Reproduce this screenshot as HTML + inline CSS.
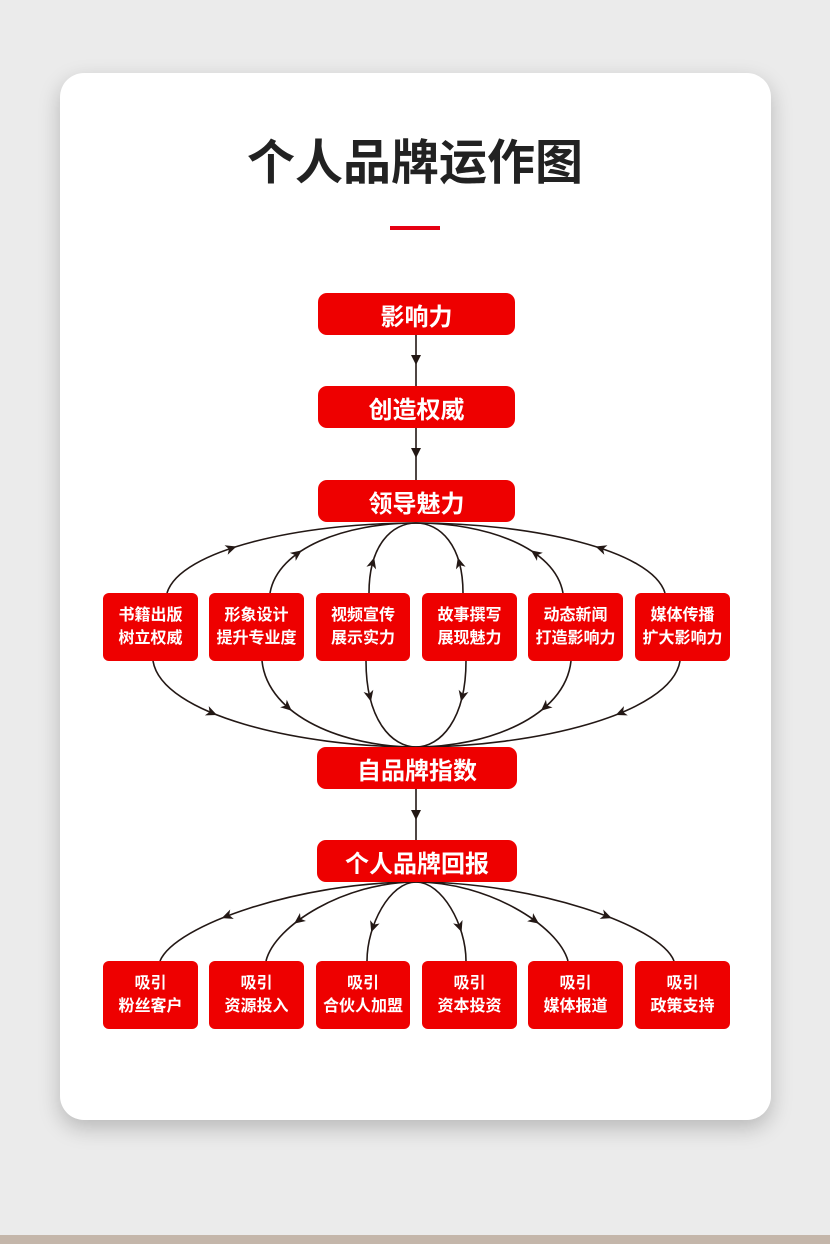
<!DOCTYPE html>
<html><head><meta charset="utf-8"><style>
body{margin:0;width:830px;height:1244px;background:#ebebeb;position:relative;overflow:hidden;font-family:"Liberation Sans","Noto Sans CJK SC",sans-serif}
.strip{position:absolute;left:0;top:1235px;width:830px;height:9px;background:#c4b6aa}
.card{position:absolute;left:60px;top:73px;width:711px;height:1047px;background:#fff;border-radius:24px;box-shadow:0 8px 22px rgba(0,0,0,.22)}
h1{position:absolute;left:0;width:830px;top:132px;margin:0;text-align:center;font-size:48px;font-weight:bold;color:#222;line-height:64px}
.line{position:absolute;left:390px;top:226px;width:50px;height:4px;background:#e60012}
.b{position:absolute;background:#ee0000;color:#fff;font-weight:bold;border-radius:9px;display:flex;align-items:center;justify-content:center;text-align:center}
.m{font-size:24px}
.s{font-size:16px;line-height:23px;border-radius:6px}
svg{position:absolute;left:0;top:0}
</style></head><body>
<div class="card"></div>
<div class="strip"></div>
<h1>个人品牌运作图</h1>
<div class="line"></div>
<svg width="830" height="1244" id="sv">
<g fill="none" stroke="#231815" stroke-width="1.6" id="g">
<path d="M416,335 L416,386"/>
<path d="M416,428 L416,480"/>
<path d="M416,789 L416,840"/>
<path class="a" data-f="0.3" d="M167,593 C180,550 300,523 416,523"/>
<path class="a" data-f="0.28" d="M270,593 C278,548 345,523 416,523"/>
<path class="a" data-f="0.32" d="M369,593 C369,545 392,523 416,523"/>
<path class="a" data-f="0.3" d="M665,593 C652,550 532,523 416,523"/>
<path class="a" data-f="0.28" d="M563,593 C555,548 487,523 416,523"/>
<path class="a" data-f="0.32" d="M463,593 C463,545 440,523 416,523"/>
<path class="a" data-f="0.28" d="M153,661 C162,715 300,747 416,747"/>
<path class="a" data-f="0.28" d="M262,661 C268,717 345,747 416,747"/>
<path class="a" data-f="0.32" d="M366,661 C366,720 392,747 416,747"/>
<path class="a" data-f="0.28" d="M680,661 C671,715 532,747 416,747"/>
<path class="a" data-f="0.28" d="M571,661 C565,717 487,747 416,747"/>
<path class="a" data-f="0.32" d="M466,661 C466,720 440,747 416,747"/>
<path class="a" data-f="0.7" d="M416,882 C300,882 175,925 160,961"/>
<path class="a" data-f="0.7" d="M416,882 C345,882 275,925 266,961"/>
<path class="a" data-f="0.65" d="M416,882 C390,882 367,925 367,961"/>
<path class="a" data-f="0.65" d="M416,882 C442,882 466,925 466,961"/>
<path class="a" data-f="0.7" d="M416,882 C487,882 558,925 568,961"/>
<path class="a" data-f="0.7" d="M416,882 C532,882 660,925 674,961"/>
</g>
<g fill="#231815">
<polygon points="416,365 411,355 421,355"/>
<polygon points="416,458 411,448 421,448"/>
<polygon points="416,820 411,810 421,810"/>
</g>
<g id="ar" fill="#231815"></g>
</svg>
<div class="b m" style="left:318px;top:293px;width:197px;height:42px">影响力</div>
<div class="b m" style="left:318px;top:386px;width:197px;height:42px">创造权威</div>
<div class="b m" style="left:318px;top:480px;width:197px;height:42px">领导魅力</div>
<div class="b m" style="left:317px;top:747px;width:200px;height:42px">自品牌指数</div>
<div class="b m" style="left:317px;top:840px;width:200px;height:42px">个人品牌回报</div>
<div class="b s" style="left:103px;top:593px;width:95px;height:68px">书籍出版<br>树立权威</div>
<div class="b s" style="left:209px;top:593px;width:95px;height:68px">形象设计<br>提升专业度</div>
<div class="b s" style="left:316px;top:593px;width:94px;height:68px">视频宣传<br>展示实力</div>
<div class="b s" style="left:422px;top:593px;width:95px;height:68px">故事撰写<br>展现魅力</div>
<div class="b s" style="left:528px;top:593px;width:95px;height:68px">动态新闻<br>打造影响力</div>
<div class="b s" style="left:635px;top:593px;width:95px;height:68px">媒体传播<br>扩大影响力</div>
<div class="b s" style="left:103px;top:961px;width:95px;height:68px">吸引<br>粉丝客户</div>
<div class="b s" style="left:209px;top:961px;width:95px;height:68px">吸引<br>资源投入</div>
<div class="b s" style="left:316px;top:961px;width:94px;height:68px">吸引<br>合伙人加盟</div>
<div class="b s" style="left:422px;top:961px;width:95px;height:68px">吸引<br>资本投资</div>
<div class="b s" style="left:528px;top:961px;width:95px;height:68px">吸引<br>媒体报道</div>
<div class="b s" style="left:635px;top:961px;width:95px;height:68px">吸引<br>政策支持</div>
<script>
var ar=document.getElementById('ar');
document.querySelectorAll('path.a').forEach(function(p){
var L=p.getTotalLength(),t=L*parseFloat(p.getAttribute('data-f')),a=p.getPointAtLength(t),b=p.getPointAtLength(t+1);
var ang=Math.atan2(b.y-a.y,b.x-a.x)*180/Math.PI;
var e=document.createElementNS('http://www.w3.org/2000/svg','polygon');
e.setAttribute('points','6,0 -5,-5 -2,0 -5,5');
e.setAttribute('transform','translate('+a.x+','+a.y+') rotate('+ang+')');
ar.appendChild(e);});
</script>
</body></html>
